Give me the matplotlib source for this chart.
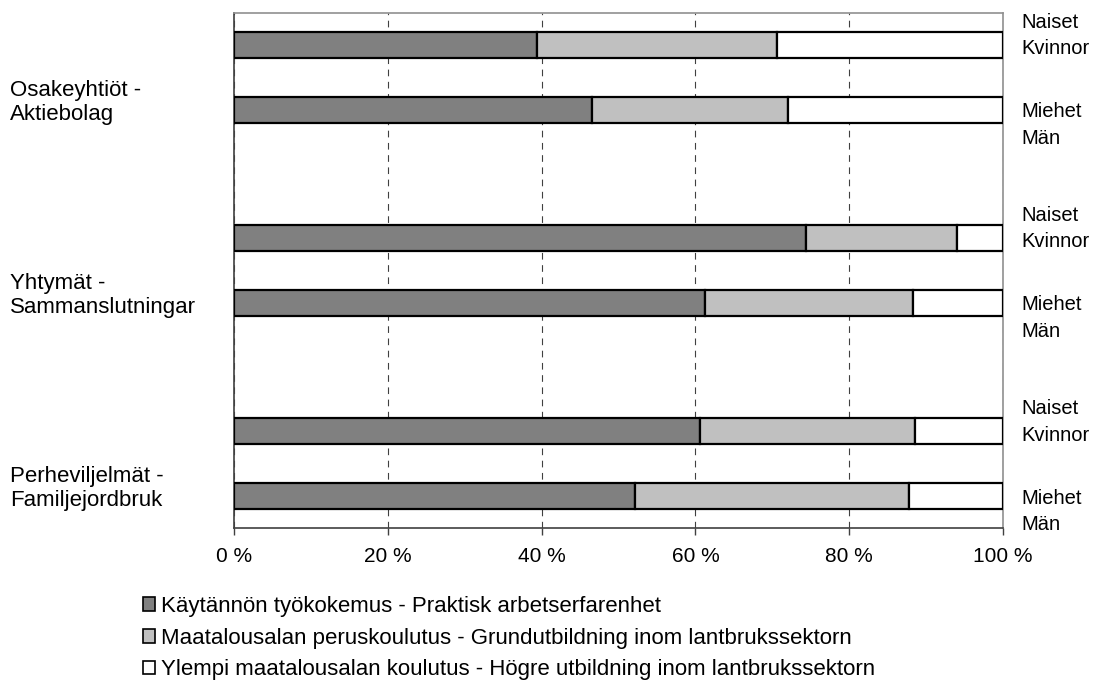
import matplotlib
matplotlib.use('Agg')
import matplotlib.pyplot as plt
from matplotlib.patches import Patch
from matplotlib.transforms import blended_transform_factory

plt.rcParams['font.family'] = ['Liberation Sans', 'DejaVu Sans']

# bar order, top to bottom
groups = ['Osakeyhtiöt -\nAktiebolag', 'Yhtymät -\nSammanslutningar',
          'Perheviljelmät -\nFamiljejordbruk']
sex_labels = ['Naiset\nKvinnor', 'Miehet\nMän'] * 3
positions = [0, 1, 3, 4, 6, 7]

# shares in percent
practical = [39.4, 46.5, 74.4, 61.2, 60.6, 52.2]
basic = [31.2, 25.5, 19.6, 27.1, 28.0, 35.6]
higher = [29.4, 28.0, 6.0, 11.7, 11.4, 12.2]

series_names = ['Käytännön työkokemus - Praktisk arbetserfarenhet',
                'Maatalousalan peruskoulutus - Grundutbildning inom lantbrukssektorn',
                'Ylempi maatalousalan koulutus - Högre utbildning inom lantbrukssektorn']
colors = ['#808080', '#c0c0c0', '#ffffff']

fs = 16

fig = plt.figure(figsize=(10.95, 6.95), dpi=100)
ax = fig.add_axes([234 / 1095, 1 - 528 / 695, 769 / 1095, 515 / 695])

left = [0] * len(positions)
for vals, col in zip([practical, basic, higher], colors):
    ax.barh(positions, vals, left=left, height=0.405, color=col,
            edgecolor='black', linewidth=1.6, zorder=3)
    left = [l + v for l, v in zip(left, vals)]

ax.set_xlim(0, 100)
ax.set_ylim(7.5, -0.5)
ax.set_xticks([0, 20, 40, 60, 80, 100])
ax.set_xticklabels(['0 %', '20 %', '40 %', '60 %', '80 %', '100 %'], fontsize=15)
ax.set_yticks([])
ax.tick_params(axis='x', direction='out', length=5, width=1, color='#404040', pad=9)
ax.grid(axis='x', color='#404040', linestyle=(0, (6, 5)), linewidth=0.8, zorder=1)

for s in ['top', 'right']:
    ax.spines[s].set_color('#909090')
    ax.spines[s].set_linewidth(1.2)
for s in ['left', 'bottom']:
    ax.spines[s].set_color('#404040')
    ax.spines[s].set_linewidth(1.2)

# sex labels on the right
for i, (p, lab) in enumerate(zip(positions, sex_labels)):
    off = -0.15 if i % 2 == 0 else 0.24
    ax.text(1.024, p + off, lab, transform=ax.get_yaxis_transform(),
            ha='left', va='center', fontsize=14.5, linespacing=1.5)

# group labels on the left
trans = blended_transform_factory(fig.transFigure, ax.transData)
for g, p in zip(groups, [0.5, 3.5, 6.5]):
    ax.text(10 / 1095, p + 0.39, g, transform=trans,
            ha='left', va='center', fontsize=fs, linespacing=1.2)

handles = [Patch(facecolor=c, edgecolor='black', linewidth=1.2) for c in colors]
fig.legend(handles, series_names, loc='upper left', bbox_to_anchor=(143 / 1095, 1 - 596 / 695),
           frameon=False, fontsize=fs, handlelength=0.55, handleheight=0.55,
           handletextpad=0.25, labelspacing=0.48, borderaxespad=0, borderpad=0)

fig.savefig('out.png', dpi=100)
